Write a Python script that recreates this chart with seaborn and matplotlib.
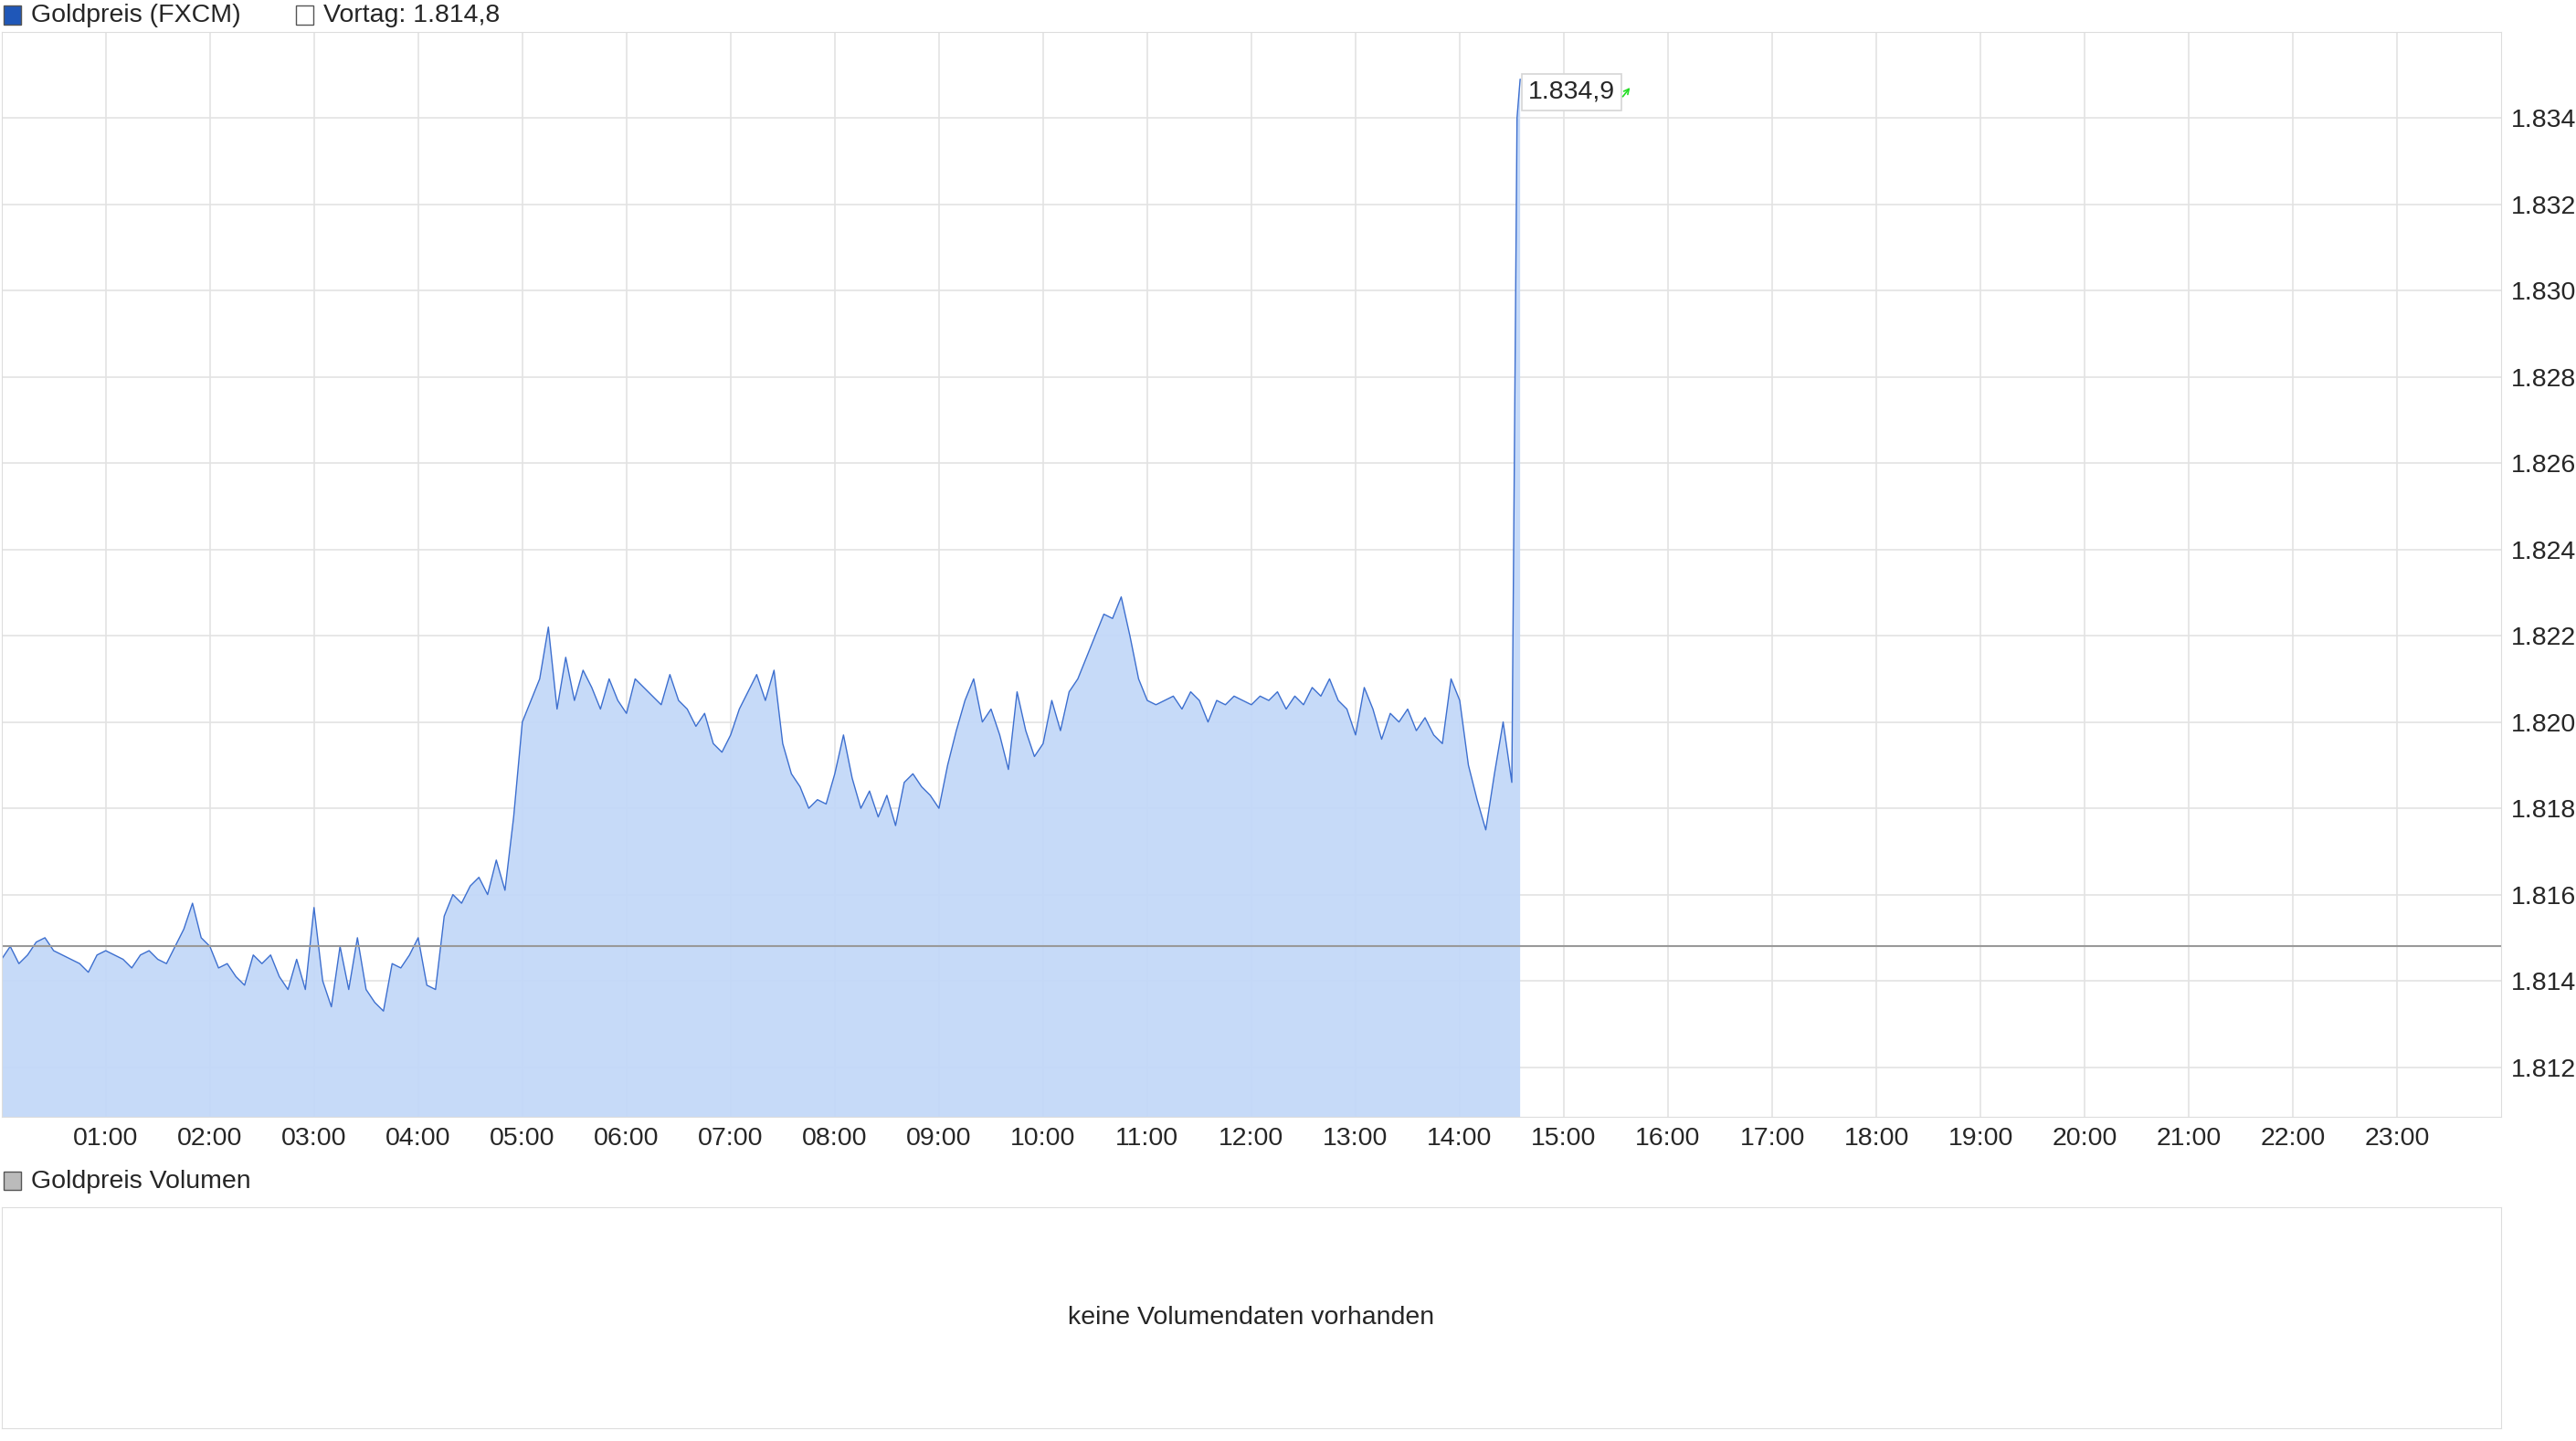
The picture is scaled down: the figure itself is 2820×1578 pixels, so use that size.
import numpy as np
import pandas as pd
import matplotlib.pyplot as plt
import seaborn as sns
from matplotlib.patches import Rectangle
from matplotlib.ticker import FuncFormatter

# price readings, 5-minute steps from 00:00
h00 = [1.8145, 1.8148, 1.8144, 1.8146, 1.8149, 1.8150, 1.8147, 1.8146, 1.8145, 1.8144, 1.8142, 1.8146]
h01 = [1.8147, 1.8146, 1.8145, 1.8143, 1.8146, 1.8147, 1.8145, 1.8144, 1.8148, 1.8152, 1.8158, 1.8150]
h02 = [1.8148, 1.8143, 1.8144, 1.8141, 1.8139, 1.8146, 1.8144, 1.8146, 1.8141, 1.8138, 1.8145, 1.8138]
h03 = [1.8157, 1.8140, 1.8134, 1.8148, 1.8138, 1.8150, 1.8138, 1.8135, 1.8133, 1.8144, 1.8143, 1.8146]
h04 = [1.8150, 1.8139, 1.8138, 1.8155, 1.8160, 1.8158, 1.8162, 1.8164, 1.8160, 1.8168, 1.8161, 1.8178]
h05 = [1.8200, 1.8205, 1.8210, 1.8222, 1.8203, 1.8215, 1.8205, 1.8212, 1.8208, 1.8203, 1.8210, 1.8205]
h06 = [1.8202, 1.8210, 1.8208, 1.8206, 1.8204, 1.8211, 1.8205, 1.8203, 1.8199, 1.8202, 1.8195, 1.8193]
h07 = [1.8197, 1.8203, 1.8207, 1.8211, 1.8205, 1.8212, 1.8195, 1.8188, 1.8185, 1.8180, 1.8182, 1.8181]
h08 = [1.8188, 1.8197, 1.8187, 1.8180, 1.8184, 1.8178, 1.8183, 1.8176, 1.8186, 1.8188, 1.8185, 1.8183]
h09 = [1.8180, 1.8190, 1.8198, 1.8205, 1.8210, 1.8200, 1.8203, 1.8197, 1.8189, 1.8207, 1.8198, 1.8192]
h10 = [1.8195, 1.8205, 1.8198, 1.8207, 1.8210, 1.8215, 1.8220, 1.8225, 1.8224, 1.8229, 1.8220, 1.8210]
h11 = [1.8205, 1.8204, 1.8205, 1.8206, 1.8203, 1.8207, 1.8205, 1.8200, 1.8205, 1.8204, 1.8206, 1.8205]
h12 = [1.8204, 1.8206, 1.8205, 1.8207, 1.8203, 1.8206, 1.8204, 1.8208, 1.8206, 1.8210, 1.8205, 1.8203]
h13 = [1.8197, 1.8208, 1.8203, 1.8196, 1.8202, 1.8200, 1.8203, 1.8198, 1.8201, 1.8197, 1.8195, 1.8210]
h14 = [1.8205, 1.8190, 1.8182, 1.8175, 1.8188, 1.8200, 1.8186]
spike_times = [14.55, 14.58]
spike_prices = [1.8340, 1.8349]

vortag = 1.8148
last_label = "1.834,9"
hour_labels = [f"{h:02d}:00" for h in range(1, 24)]

prices = h00 + h01 + h02 + h03 + h04 + h05 + h06 + h07 + h08 + h09 + h10 + h11 + h12 + h13 + h14
times = [i / 12 for i in range(len(prices))] + spike_times
prices = prices + spike_prices
df = pd.DataFrame({"t": times, "price": prices})

sns.set_style("white")
plt.rcParams['font.family'] = ['Liberation Sans', 'DejaVu Sans']
fs = 20.5

fig = plt.figure(figsize=(28.2, 15.78), dpi=100)
ax = fig.add_axes([0.0006, 0.225, 0.9704, 0.753])
ax.fill_between(df["t"], df["price"], 1.80, color="#c3d8f8", alpha=0.95, lw=0)
sns.lineplot(data=df, x="t", y="price", ax=ax, color="#3d6fcf", lw=1.0)
ax.axhline(vortag, color="#999999", lw=1.5)

ax.set_xlim(0, 24)
ax.set_ylim(1.81085, 1.836)
ax.set_xticks(range(1, 24))
ax.set_xticklabels(hour_labels, fontsize=fs)
ax.set_yticks(np.arange(1.812, 1.8345, 0.002))
ax.yaxis.set_major_formatter(FuncFormatter(lambda v, p: f"{v:.3f}"))
ax.yaxis.tick_right()
ax.tick_params(axis="y", labelsize=fs, length=0, pad=8)
ax.tick_params(axis="x", length=0, pad=8)
ax.grid(True, color="#e3e3e3", lw=1.2)
ax.set_axisbelow(True)
ax.set_xlabel("")
ax.set_ylabel("")
for s in ax.spines.values():
    s.set_color("#dddddd")

ax.text(spike_times[-1] + 0.08, spike_prices[-1] - 0.0003, last_label, fontsize=fs,
        va="center", ha="left",
        bbox=dict(boxstyle="square,pad=0.25", fc="white", ec="#d5d5d5", lw=1.2))
ax.annotate("", xy=(15.65, spike_prices[-1] - 0.00015), xytext=(15.55, spike_prices[-1] - 0.00045),
            arrowprops=dict(arrowstyle="->", color="#22dd22", lw=1.2))

# legends
fig.patches.append(Rectangle((0.0015, 0.983), 0.0065, 0.013, transform=fig.transFigure,
                             fc="#1f57b8", ec="#555555", lw=1))
fig.text(0.012, 0.989, "Goldpreis (FXCM)", fontsize=fs, va="center")
fig.patches.append(Rectangle((0.115, 0.983), 0.0065, 0.013, transform=fig.transFigure,
                             fc="white", ec="#555555", lw=1))
fig.text(0.1255, 0.989, "Vortag: 1.814,8", fontsize=fs, va="center")
fig.patches.append(Rectangle((0.0015, 0.174), 0.0065, 0.013, transform=fig.transFigure,
                             fc="#bbbbbb", ec="#555555", lw=1))
fig.text(0.012, 0.180, "Goldpreis Volumen", fontsize=fs, va="center")

# volume panel
vax = fig.add_axes([0.0006, 0.009, 0.9704, 0.1535])
vax.set_xticks([])
vax.set_yticks([])
for s in vax.spines.values():
    s.set_color("#dddddd")
vax.text(0.5, 0.5, "keine Volumendaten vorhanden", fontsize=fs, ha="center", va="center",
         transform=vax.transAxes)

fig.savefig("out.png", dpi=100)
